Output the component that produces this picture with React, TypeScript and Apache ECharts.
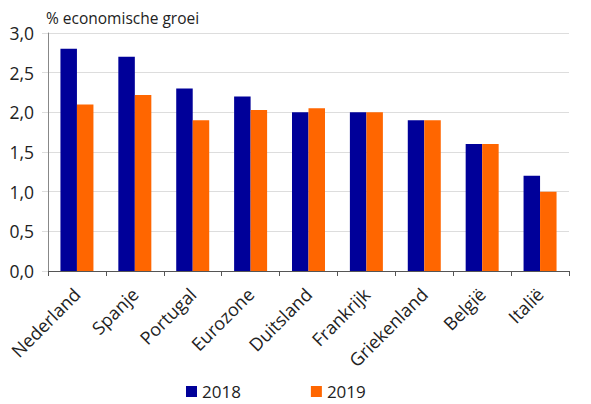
import React, { useEffect, useRef } from "react";
import * as echarts from "echarts";

const categories = ["Nederland", "Spanje", "Portugal", "Eurozone", "Duitsland", "Frankrijk", "Griekenland", "België", "Italië"];
const values2018 = [2.8, 2.7, 2.3, 2.2, 2.0, 2.0, 1.9, 1.6, 1.2];
const values2019 = [2.1, 2.22, 1.9, 2.03, 2.05, 2.0, 1.9, 1.6, 1.0];
const seriesNames = ["2018", "2019"];
const yTitle = "% economische groei";

const FONT = "'Open Sans', 'Noto Sans', sans-serif";

export default function App() {
  const ref = useRef<HTMLDivElement>(null);
  useEffect(() => {
    if (!ref.current) return;
    const chart = echarts.init(ref.current, null, { renderer: "svg" });
    chart.setOption({
      animation: false,
      backgroundColor: "#ffffff",
      textStyle: { fontFamily: FONT },
      title: {
        text: yTitle,
        left: 41,
        top: 5,
        textStyle: { fontFamily: FONT, fontSize: 15.5, fontWeight: "normal", color: "#222" },
      },
      legend: {
        top: 378,
        left: 181,
        itemWidth: 11,
        itemHeight: 11,
        itemGap: 70,
        icon: "rect",
        textStyle: { fontFamily: FONT, fontSize: 17, color: "#222" },
        data: seriesNames,
      },
      grid: { left: 48, right: 22, top: 33, bottom: 133, containLabel: false },
      xAxis: {
        type: "category",
        data: categories,
        axisLine: { lineStyle: { color: "#555", width: 1 } },
        axisTick: { show: true, alignWithLabel: false, length: 5, lineStyle: { color: "#555" } },
        axisLabel: {
          rotate: 45,
          interval: 0,
          margin: 20,
          fontFamily: FONT,
          fontSize: 18,
          color: "#222",
        },
      },
      yAxis: {
        type: "value",
        min: 0,
        max: 3,
        interval: 0.5,
        axisLine: { show: true, lineStyle: { color: "#888" } },
        axisTick: { show: true, length: 6, lineStyle: { color: "#dddddd" } },
        splitLine: { lineStyle: { color: "#dddddd" } },
        axisLabel: {
          fontFamily: FONT,
          fontSize: 17.5,
          color: "#222",
          margin: 14,
          formatter: (v: number) => v.toFixed(1).replace(".", ","),
        },
      },
      series: [
        {
          name: seriesNames[0],
          type: "bar",
          data: values2018,
          itemStyle: { color: "#000099" },
          barGap: "0%",
          barCategoryGap: "43%",
        },
        {
          name: seriesNames[1],
          type: "bar",
          data: values2019,
          itemStyle: { color: "#ff6600" },
          barGap: "0%",
          barCategoryGap: "43%",
        },
      ],
    });
    return () => chart.dispose();
  }, []);
  return <div ref={ref} style={{ width: 591, height: 404, position: "absolute", left: 0, top: 0 }} />;
}
